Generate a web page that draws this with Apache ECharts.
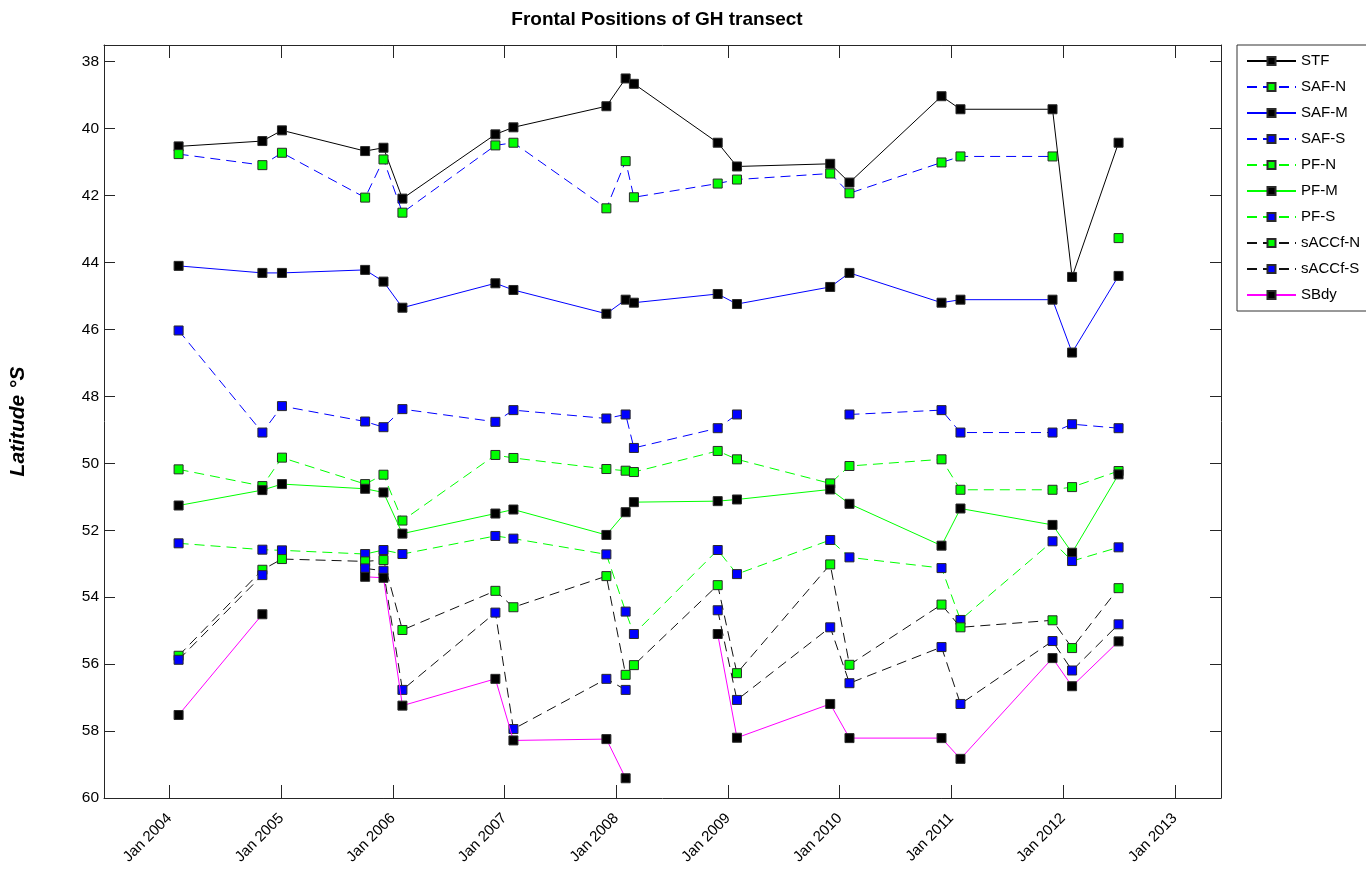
<!DOCTYPE html>
<html>
<head>
<meta charset="utf-8">
<title>Frontal Positions of GH transect</title>
<script src="https://cdn.jsdelivr.net/npm/echarts@6/dist/echarts.min.js"></script>
<style>
  html, body { margin: 0; padding: 0; background: #ffffff; }
  #chart { width: 1366px; height: 881px; }
</style>
</head>
<body>
<div id="chart"></div>
<script>
// Survey dates (one per transect occupation)
const surveyDates = [
  '2004-01-31', '2004-10-31', '2005-01-03', '2005-10-02', '2005-12-01',
  '2006-02-01', '2006-12-02', '2007-01-30', '2007-11-30', '2008-02-01',
  '2008-02-28', '2008-11-28', '2009-01-30', '2009-12-01', '2010-02-02',
  '2010-11-30', '2011-01-31', '2011-11-28', '2012-01-31', '2012-07-01'
];

// Front latitudes (degrees S); null = front not identified on that section
const STF     = [40.53, 40.37, 40.05, 40.67, 40.57, 42.09, 40.17, 39.96, 39.33, 38.50, 38.66, 40.42, 41.13, 41.05, 41.61, 39.03, 39.42, 39.42, 44.43, 40.42];
const SAF_N   = [40.76, 41.09, 40.72, 42.06, 40.92, 42.51, 40.50, 40.42, 42.38, 40.97, 42.05, 41.64, 41.52, 41.34, 41.93, 41.01, 40.83, 40.83, null, 43.27];
const SAF_M   = [44.10, 44.31, 44.31, 44.22, 44.57, 45.35, 44.62, 44.82, 45.53, 45.11, 45.20, 44.94, 45.24, 44.73, 44.31, 45.20, 45.11, 45.11, 46.69, 44.40];
const SAF_S   = [46.03, 49.08, 48.29, 48.75, 48.92, 48.38, 48.76, 48.41, 48.66, 48.54, 49.54, 48.95, 48.54, null, 48.54, 48.41, 49.08, 49.08, 48.83, 48.95];
const PF_N    = [50.18, 50.68, 49.83, 50.62, 50.34, 51.71, 49.75, 49.84, 50.17, 50.22, 50.26, 49.63, 49.88, 50.60, 50.08, 49.88, 50.79, 50.79, 50.71, 50.23];
const PF_M    = [51.26, 50.80, 50.62, 50.76, 50.87, 52.10, 51.50, 51.38, 52.14, 51.46, 51.16, 51.13, 51.08, 50.78, 51.21, 52.46, 51.35, 51.84, 52.67, 50.33];
const PF_S    = [52.39, 52.58, 52.60, 52.71, 52.59, 52.71, 52.17, 52.25, 52.72, 54.43, 55.10, 52.59, 53.31, 52.29, 52.81, 53.13, 54.68, 52.33, 52.92, 52.51];
const sACCf_N = [55.75, 53.18, 52.86, 52.93, 52.89, 54.98, 53.81, 54.30, 53.37, 56.32, 56.03, 53.64, 56.27, 53.02, 56.02, 54.22, 54.90, 54.69, 55.52, 53.73];
const sACCf_S = [55.87, 53.34, null,  53.14, 53.21, 56.77, 54.46, 57.94, 56.44, 56.77, null,  54.39, 57.07, 54.90, 56.57, 55.49, 57.19, 55.31, 56.19, 54.81];
const SBdy    = [57.52, 54.51, null,  53.39, 53.42, 57.24, 56.44, 58.28, 58.24, 59.41, null,  55.10, 58.20, 57.19, 58.21, 58.21, 58.83, 55.82, 56.66, 55.32];

// Axis ticks
const yTicks = [38, 40, 42, 44, 46, 48, 50, 52, 54, 56, 58, 60];
const xTickDates = [
  '2004-01-01', '2005-01-01', '2006-01-01', '2007-01-01', '2008-01-01',
  '2009-01-01', '2010-01-01', '2011-01-01', '2012-01-01', '2013-01-01'
];
const xTickLabels = ['Jan 2004', 'Jan 2005', 'Jan 2006', 'Jan 2007', 'Jan 2008',
                     'Jan 2009', 'Jan 2010', 'Jan 2011', 'Jan 2012', 'Jan 2013'];
const xRange = ['2003-06-01', '2013-06-01'];

// 'YYYY-MM-DD' -> UTC milliseconds, used as the x coordinate
function toTime(s) {
  const p = s.split('-').map(Number);
  return Date.UTC(p[0], p[1] - 1, p[2]);
}
const xTickTimes = xTickDates.map(toTime);
const xLabelByTime = {};
xTickTimes.forEach((t, i) => { xLabelByTime[t] = xTickLabels[i]; });

const BLACK = '#000000', BLUE = '#0000ff', GREEN = '#00ff00', MAGENTA = '#ff00ff';
const DASH = [10, 6];

// name, values, line colour, dashed?, marker fill
const fronts = [
  ['STF',      STF,     BLACK,     false, BLACK],
  ['SAF-N',    SAF_N,   BLUE,      true,  GREEN],
  ['SAF-M',    SAF_M,   BLUE,      false, BLACK],
  ['SAF-S',    SAF_S,   BLUE,      true,  BLUE],
  ['PF-N',     PF_N,    GREEN,     true,  GREEN],
  ['PF-M',     PF_M,    GREEN,     false, BLACK],
  ['PF-S',     PF_S,    GREEN,     true,  BLUE],
  ['sACCf-N',  sACCf_N, '#111111', true,  GREEN],
  ['sACCf-S',  sACCf_S, '#111111', true,  BLUE],
  ['SBdy',     SBdy,    MAGENTA,   false, BLACK]
];

const series = fronts.map(([name, vals, lineColor, dashed, fill], i) => ({
  name: name,
  type: 'line',
  xAxisIndex: 0,
  yAxisIndex: 0,
  data: surveyDates.map((d, k) => [toTime(d), vals[k]]),
  connectNulls: false,
  showSymbol: true,
  showAllSymbol: true,
  symbol: 'rect',
  symbolSize: 9,
  z: 2 + i * 0.01,
  animation: false,
  lineStyle: { color: lineColor, width: 1, type: dashed ? DASH : 'solid' },
  itemStyle: { color: fill, borderColor: '#2a2a2a', borderWidth: 1 },
  emphasis: { disabled: true }
}));

const axisColor = '#262626';
const fontFamily = '"Liberation Sans", Arial, sans-serif';

function makeXAxis(position, showLabels) {
  return {
    type: 'value',
    min: toTime(xRange[0]),
    max: toTime(xRange[1]),
    position: position,
    axisLine: { show: true, onZero: false, lineStyle: { color: axisColor, width: 1 } },
    axisTick: { show: true, inside: true, length: 13, customValues: xTickTimes, lineStyle: { color: axisColor } },
    axisLabel: {
      show: showLabels,
      customValues: xTickTimes,
      rotate: 45,
      margin: 18,
      fontSize: 15,
      color: '#000',
      fontFamily: fontFamily,
      hideOverlap: false,
      formatter: v => xLabelByTime[v] || ''
    },
    splitLine: { show: false }
  };
}

function makeYAxis(position, showLabels) {
  const ax = {
    type: 'value',
    inverse: true,
    min: 37.5,
    max: 60,
    position: position,
    axisLine: { show: true, onZero: false, lineStyle: { color: axisColor, width: 1 } },
    axisTick: { show: true, inside: true, length: 11, customValues: yTicks, lineStyle: { color: axisColor } },
    axisLabel: {
      show: showLabels,
      customValues: yTicks,
      margin: 5,
      fontSize: 15.5,
      color: '#000',
      fontFamily: fontFamily,
      formatter: v => String(v)
    },
    splitLine: { show: false }
  };
  if (showLabels) {
    ax.name = 'Latitude °S';
    ax.nameLocation = 'middle';
    ax.nameRotate = 90;
    ax.nameGap = 75;
    ax.nameTextStyle = { fontSize: 21, fontWeight: 'bold', fontStyle: 'italic', color: '#000', fontFamily: fontFamily };
  }
  return ax;
}

const chart = echarts.init(document.getElementById('chart'), null, { renderer: 'canvas' });
chart.setOption({
  backgroundColor: '#ffffff',
  animation: false,
  textStyle: { fontFamily: fontFamily },
  graphic: [{
    type: 'text',
    x: 657, y: 20,
    style: {
      text: 'Frontal Positions of GH transect',
      font: 'bold 19px ' + fontFamily,
      fill: '#000',
      align: 'center',
      verticalAlign: 'middle'
    }
  }],
  grid: {
    left: 104, top: 45, width: 1117, height: 753,
    containLabel: false,
    outerBoundsMode: 'none',
    show: false
  },
  legend: {
    orient: 'vertical',
    left: 1237, top: 45,
    padding: [8, 10, 8, 9],
    borderColor: '#333333',
    borderWidth: 1,
    backgroundColor: '#ffffff',
    itemWidth: 49,
    itemHeight: 10,
    itemGap: 10,
    selectedMode: false,
    textStyle: { fontSize: 15, color: '#000', fontFamily: fontFamily, lineHeight: 16 },
    data: fronts.map(f => f[0])
  },
  xAxis: [makeXAxis('bottom', true), makeXAxis('top', false)],
  yAxis: [makeYAxis('left', true), makeYAxis('right', false)],
  series: series
});
</script>
</body>
</html>
